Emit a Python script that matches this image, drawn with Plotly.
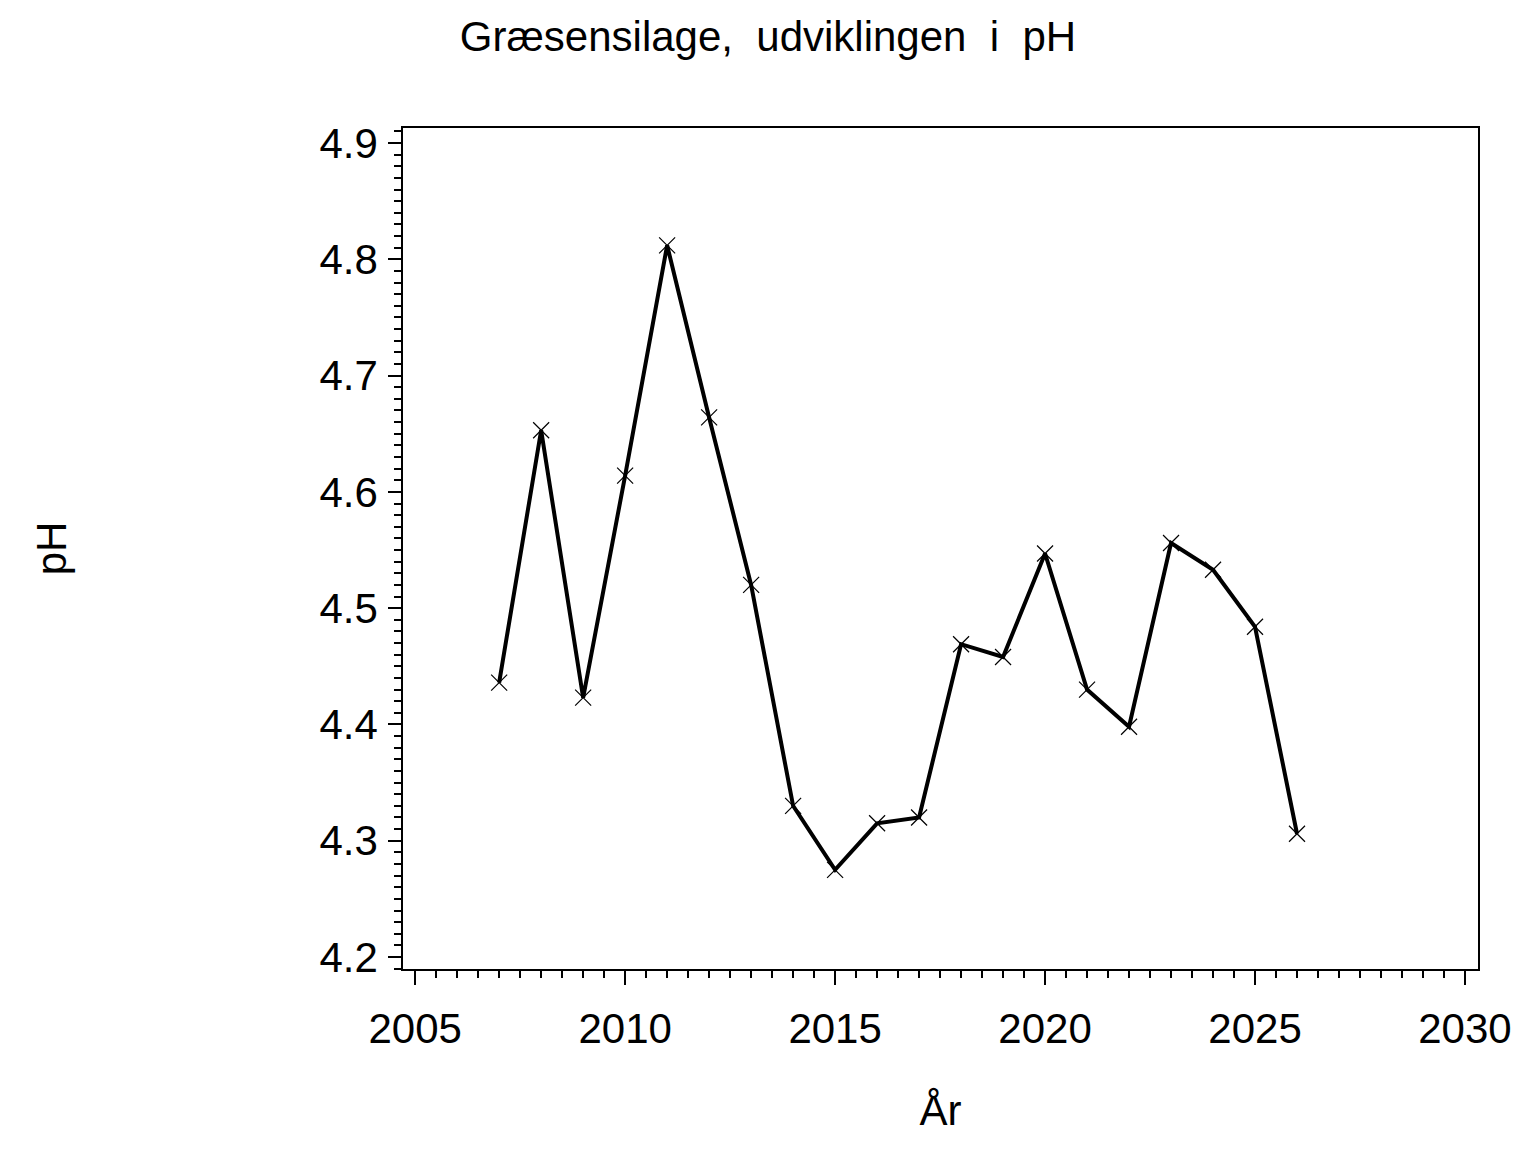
import plotly.graph_objects as go

years = [2007, 2008, 2009, 2010, 2011, 2012, 2013, 2014, 2015, 2016,
         2017, 2018, 2019, 2020, 2021, 2022, 2023, 2024, 2025, 2026]
ph = [4.436, 4.653, 4.423, 4.614, 4.812, 4.664, 4.520, 4.330, 4.275, 4.315,
      4.320, 4.469, 4.458, 4.547, 4.430, 4.398, 4.556, 4.533, 4.484, 4.306]

title_text = "Græsensilage,&nbsp;&nbsp;udviklingen&nbsp;&nbsp;i&nbsp;&nbsp;pH"
x_title = "År"
y_title = "pH"

FONT = "Liberation Sans, Arial, sans-serif"

W, H = 1528, 1144  # page body has an 8px margin

fig = go.Figure()
fig.add_trace(go.Scatter(
    x=years, y=ph, mode="lines+markers",
    line=dict(color="black", width=4),
    marker=dict(symbol="x-thin", size=16, line=dict(color="black", width=1.2)),
    showlegend=False,
))

fig.update_layout(
    width=W, height=H,
    paper_bgcolor="white", plot_bgcolor="white",
    margin=dict(l=395, r=58, t=120, b=183),
    font=dict(family=FONT, color="black", size=42),
    title=dict(text=title_text, x=(768 - 8) / W, xanchor="center", xref="container",
               y=1 - 28 / H, yanchor="middle", yref="container",
               font=dict(size=42, family=FONT, color="black")),
    xaxis=dict(
        range=[2004.71, 2030.31], tickmode="linear", tick0=2005, dtick=5,
        ticks="outside", ticklen=14, tickwidth=1.5, tickcolor="black",
        minor=dict(dtick=0.5, ticks="outside", ticklen=7, tickwidth=1.5, tickcolor="black"),
        showline=True, linecolor="black", linewidth=1.5, mirror=True,
        showgrid=False, zeroline=False,
        tickfont=dict(size=42, family=FONT), ticklabelstandoff=8,
        title=dict(text=x_title, font=dict(size=42, family=FONT), standoff=44),
    ),
    yaxis=dict(
        range=[4.1897, 4.9129], tickmode="linear", tick0=4.2, dtick=0.1,
        tickformat=".1f",
        ticks="outside", ticklen=13, tickwidth=1.5, tickcolor="black",
        minor=dict(dtick=0.01, ticks="outside", ticklen=7, tickwidth=1.5, tickcolor="black"),
        showline=True, linecolor="black", linewidth=1.5, mirror=True,
        showgrid=False, zeroline=False,
        tickfont=dict(size=42, family=FONT), ticklabelstandoff=2,
        title=dict(text=y_title, font=dict(size=42, family=FONT), standoff=240),
    ),
)

fig.write_html("out.html")
